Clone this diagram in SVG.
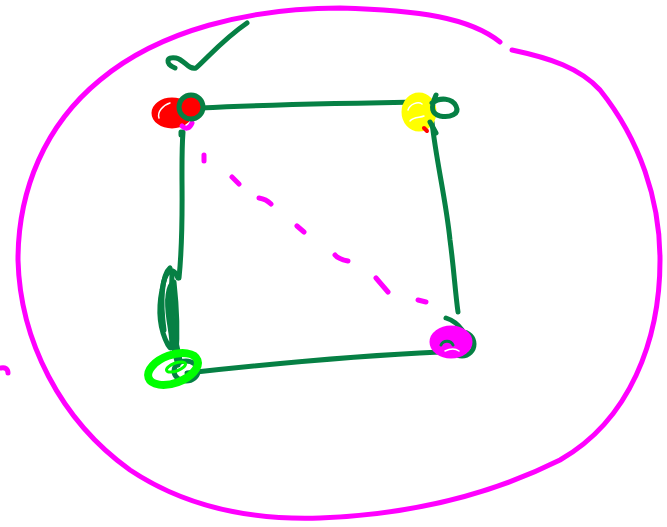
<svg xmlns="http://www.w3.org/2000/svg" width="667" height="527" viewBox="0 0 667 527">
<style>
.s{fill:none;stroke-linecap:round;stroke-linejoin:round}
.m{stroke:#ff00ff;stroke-width:5}
.g{stroke:#068044;stroke-width:5}
</style>
<rect width="667" height="527" fill="#fff"/>
<g id="outline">
<path class="s m" d="M500,42 C470,18 420,10 340,8 C250,8 160,30 100,80 C45,125 18,190 18,260 C20,340 60,420 130,470 C190,510 260,520 320,518 C400,515 480,500 560,460 C630,420 660,340 660,260 C660,200 640,140 600,90 C580,68 550,58 512,50"/>
<path class="s m" d="M1,368 C5,367 8,369 8,373"/>
</g>
<g id="check">
<path class="s g" d="M175,68 C165,64 166,56 176,58 C185,60 188,70 196,68 C210,55 225,38 247,23"/>
</g>
<g id="connectors">
<path class="s g" d="M200,108 C260,105 350,103 432,102"/>
<path class="s g" d="M432,122 C436,160 446,200 450,240 C454,270 455,290 458,312"/>
<path class="s g" d="M187,373 C260,365 350,356 440,352"/>
<path class="s g" d="M183,132 C180,170 185,220 179,278"/>
<path class="s g" stroke-width="6" d="M178,278 C173,265 165,270 162,290 C158,310 160,330 168,345 C174,355 172,338 169,320 C166,300 168,285 174,282 C176,300 178,330 176,355"/>
<path class="s g" d="M170,268 C162,275 160,300 164,330 M172,275 C170,300 172,330 180,360 M168,300 C170,325 172,345 178,365"/>
<path class="s m" d="M204,155 L204,161 M232,177 L239,184 M259,198 C265,199 268,201 271,204 M297,226 L304,232 M335,255 C338,259 343,260 348,261 M376,278 L388,292 M418,300 L426,302"/>
</g>
<g id="n-tl">
<ellipse cx="172" cy="113" rx="19" ry="14" fill="#ff0000" stroke="#ff0000" stroke-width="3"/>
<path class="s" stroke="#fff" stroke-width="1.5" d="M159,118 C157,112 163,105 170,103"/>
<path class="s m" d="M182,126 C186,130 190,128 192,123"/>
<circle cx="191" cy="107" r="12" fill="#ff0000" stroke="#068044" stroke-width="5"/>
<path class="s g" d="M181,132 L181,135"/>
</g>
<g id="n-tr">
<ellipse cx="419" cy="112" rx="16" ry="18" fill="#ffff00" stroke="#ffff00" stroke-width="3"/>
<path class="s" stroke="#fff" stroke-width="1.5" d="M408,110 C410,104 418,101 422,104 M410,121 C414,116 420,118 424,116"/>
<path class="s" stroke="#ff0000" stroke-width="4" d="M424,128 L427,131"/>
<path class="s g" d="M432,103 C440,97 452,98 456,106 C460,114 450,118 440,116 C432,114 430,108 436,95"/>
<path class="s g" d="M430,122 L436,133"/>
</g>
<g id="n-bl">
<ellipse cx="186" cy="371" rx="12" ry="10" fill="none" stroke="#068044" stroke-width="5"/>
<ellipse cx="173" cy="369" rx="26" ry="14" transform="rotate(-20 173 369)" fill="none" stroke="#00ff00" stroke-width="8"/>
<ellipse cx="176" cy="367" rx="10" ry="4" transform="rotate(-20 176 367)" fill="none" stroke="#00ff00" stroke-width="3"/>
</g>
<g id="n-br">
<path class="s g" d="M446,318 C452,320 458,324 462,330"/>
<circle cx="462" cy="344" r="12" fill="none" stroke="#068044" stroke-width="5"/>
<ellipse cx="451" cy="342" rx="20" ry="15" fill="#ff00ff" stroke="#ff00ff" stroke-width="3"/>
<path class="s" stroke="#068044" stroke-width="3" d="M441,345 C443,340 451,340 453,345"/>
<path class="s" stroke="#fff" stroke-width="1.5" d="M445,351 C449,349 455,348 459,351"/>
</g>
</svg>
